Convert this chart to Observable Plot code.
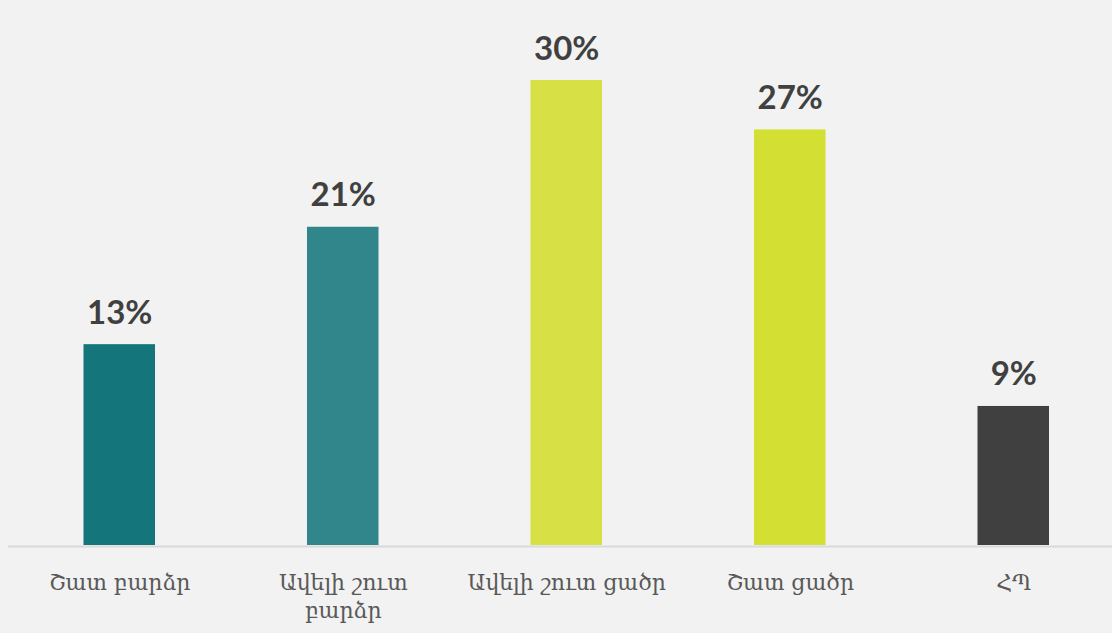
<!DOCTYPE html>
<html>
<head>
<meta charset="utf-8">
<script src="https://cdn.jsdelivr.net/npm/d3@7"></script>
<script src="https://cdn.jsdelivr.net/npm/@observablehq/plot@0.6"></script>
<style>
  html, body { margin: 0; padding: 0; background: #f2f2f2; overflow: hidden; }
  #chart svg { display: block; }
</style>
</head>
<body>
<div id="chart"></div>
<script>
const categories = ["Շատ բարձր", "Ավելի շուտ բարձր", "Ավելի շուտ ցածր", "Շատ ցածր", "ՀՊ"];
const tickLabels = ["Շատ բարձր", "Ավելի շուտ\nբարձր", "Ավելի շուտ ցածր", "Շատ ցածր", "ՀՊ"];
const values = [13.0, 20.6, 30.1, 26.9, 9.0];
const valueLabels = ["13%", "21%", "30%", "27%", "9%"];
const colors = ["#14767a", "#30868a", "#d7e045", "#d3df33", "#404040"];

const data = categories.map((c, i) => ({category: c, value: values[i], label: valueLabels[i], color: colors[i]}));
const tickMap = new Map(categories.map((c, i) => [c, tickLabels[i]]));

const chart = Plot.plot({
  width: 1112,
  height: 633,
  marginLeft: 8,
  marginRight: 0,
  marginTop: 0,
  marginBottom: 88,
  style: {background: "#f2f2f2", overflow: "visible"},
  x: {domain: categories, range: [7.5, 1125], paddingInner: 0.68, paddingOuter: 0.34, align: 0.5, round: false},
  y: {domain: [0, 30.1], range: [545, 80], axis: null},
  marks: [
    Plot.ruleY([0], {stroke: "#d9d9d9", strokeWidth: 2, dy: 1}),
    Plot.barY(data, {x: "category", y: "value", fill: "color"}),
    Plot.text(data, {x: "category", y: "value", text: "label", lineAnchor: "bottom", dy: -21,
      fontSize: 33, fontWeight: "bold", fill: "#404040", fontFamily: "Lato, 'Open Sans', sans-serif"}),
    Plot.axisX({tickSize: 0, tickPadding: 24, tickFormat: d => tickMap.get(d), fontSize: 22,
      fontFamily: "'DejaVu Serif', serif", fill: "#595959", lineHeight: 1.3, label: null}),
  ]
});
document.getElementById("chart").appendChild(chart);
</script>
</body>
</html>
